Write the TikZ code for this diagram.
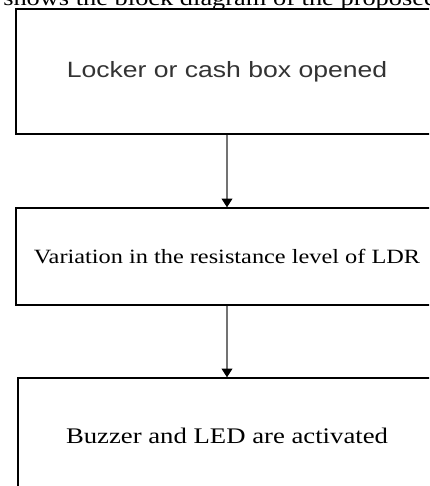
\documentclass[tikz,border=0pt]{standalone}
\usepackage{fontspec}
\usepackage{graphicx}
\setmainfont{Liberation Serif}
\newfontfamily\arialfont{Liberation Sans}
\usetikzlibrary{arrows.meta}
\newcommand{\widetext}[1]{\scalebox{1.2}[1]{#1}}
\tikzset{
  blockbox/.style={draw=black, line width=1pt, inner sep=0pt, align=center},
  flowarrow/.style={draw=black!55, line width=1.1pt,
    -{Triangle[black, length=6.5pt, width=8pt]}},
}
\begin{document}
\begin{tikzpicture}[x=0.75pt, y=-0.75pt]
  \useasboundingbox (0,0) rectangle (429,486);
  \clip (0,0) rectangle (429,486);
  % clipped line of the surrounding page
  \node[anchor=base west, inner sep=0pt, font=\fontsize{16.5}{19}\selectfont]
    (caption) at (3,5) {\widetext{shows the block diagram of the proposed}};
  \node[blockbox, minimum width=316.5pt, minimum height=93.75pt,
        text=black!80, font=\arialfont\fontsize{16.6}{19}\selectfont]
    (locker) at (227,71.5) {\widetext{Locker or cash box opened}};
  \node[blockbox, minimum width=316.5pt, minimum height=72.75pt,
        font=\fontsize{15.2}{18}\selectfont]
    (ldr) at (227,256.5) {\widetext{Variation in the resistance level of LDR}};
  \node[blockbox, minimum width=313.5pt, minimum height=87pt,
        font=\fontsize{16.7}{19}\selectfont]
    (buzzer) at (227,436) {\widetext{Buzzer and LED are activated}};
  \draw[flowarrow] (locker.south) -- (ldr.north);
  \draw[flowarrow] (ldr.south) -- (buzzer.north);
\end{tikzpicture}
\end{document}
